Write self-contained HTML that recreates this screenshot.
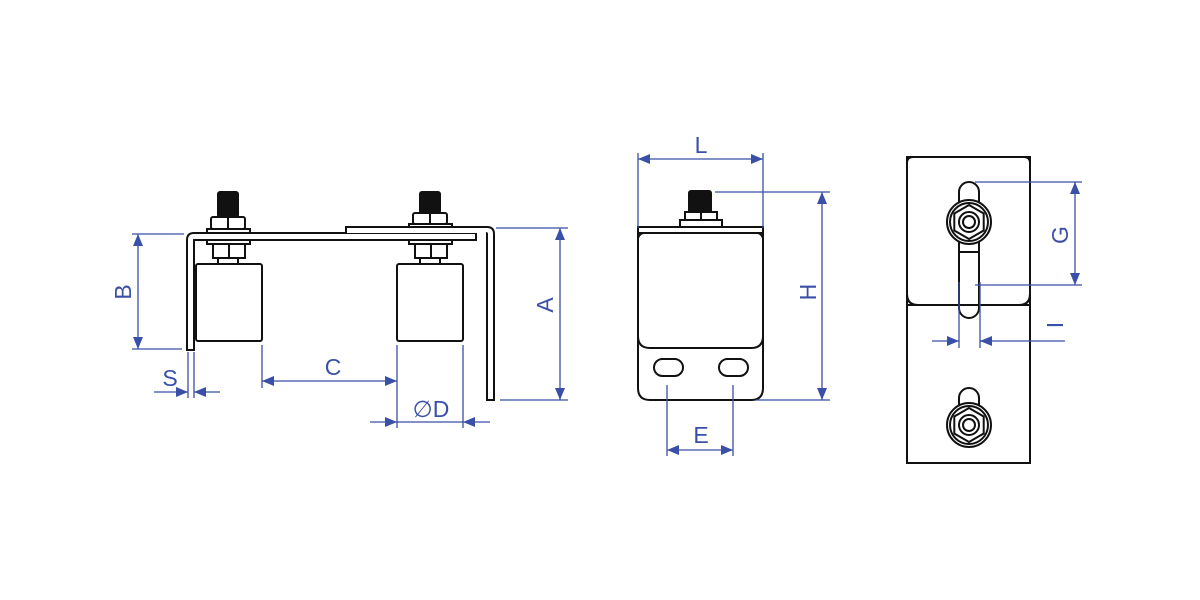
<!DOCTYPE html>
<html><head><meta charset="utf-8"><style>html,body{margin:0;padding:0;background:#fff}svg{display:block}</style></head>
<body>
<svg width="1200" height="600" viewBox="0 0 1200 600" xmlns="http://www.w3.org/2000/svg">
<defs>
<marker id="a" viewBox="0 0 12 10" refX="12" refY="5" markerWidth="12" markerHeight="10" markerUnits="userSpaceOnUse" orient="auto-start-reverse"><path d="M0,0 L12,5 L0,10 z" fill="#3a4fa8"/></marker>
</defs>
<rect width="1200" height="600" fill="#fff"/>
<g fill="none" stroke="#111" stroke-width="2">
<!-- LEFT VIEW -->
<path d="M187,350 V240 Q187,233 194,233 H476 V240 H194 V350 Z" fill="#fff"/>
<path d="M346,233 V227 H487 Q494,227 494,234 V400 H487 V234 Q487,233 486,233" fill="#fff"/>
<!-- left bolt -->
<rect x="218" y="192" width="20" height="25" rx="2" fill="#111"/>
<rect x="211" y="217" width="34" height="12" rx="2" fill="#fff"/>
<line x1="228" y1="217" x2="228" y2="229"/>
<rect x="207" y="229" width="43" height="4" fill="#fff"/>
<rect x="207" y="240" width="43" height="4" fill="#fff"/>
<rect x="213" y="244" width="32" height="14" fill="#fff"/>
<line x1="229" y1="244" x2="229" y2="258"/>
<rect x="218" y="258" width="20" height="6" fill="#fff"/>
<rect x="196" y="264" width="66" height="77" rx="2" fill="#fff"/>
<!-- right bolt -->
<rect x="420" y="192" width="20" height="21" rx="2" fill="#111"/>
<rect x="413" y="213" width="34" height="11" rx="2" fill="#fff"/>
<line x1="430" y1="213" x2="430" y2="224"/>
<rect x="409" y="224" width="43" height="3" fill="#fff"/>
<rect x="409" y="240" width="43" height="4" fill="#fff"/>
<rect x="415" y="244" width="32" height="14" fill="#fff"/>
<line x1="431" y1="244" x2="431" y2="258"/>
<rect x="420" y="258" width="20" height="6" fill="#fff"/>
<rect x="397" y="264" width="66" height="77" rx="2" fill="#fff"/>

<!-- MIDDLE VIEW -->
<rect x="689" y="191" width="22" height="22" rx="2" fill="#111"/>
<rect x="685" y="212" width="32" height="12" fill="#fff"/>
<line x1="701" y1="212" x2="701" y2="224"/>
<rect x="680" y="220" width="42" height="8" fill="#fff"/>
<rect x="638" y="227" width="125" height="6" fill="#fff"/>
<path d="M638,233 V388 Q638,400 650,400 H751 Q763,400 763,388 V233"/>
<path d="M638,238 Q640,233 644,233 M763,238 Q761,233 757,233"/>
<path d="M638,336 Q638,348 650,348 H751 Q763,348 763,336"/>
<rect x="654" y="359" width="29" height="17" rx="8.5"/>
<rect x="719" y="359" width="29" height="17" rx="8.5"/>

<!-- RIGHT VIEW -->
<rect x="907" y="157" width="123" height="306"/>
<path d="M907,163 Q907,157 913,157 H1024 Q1030,157 1030,163 V294 Q1030,305 1019,305 H918 Q907,305 907,294 Z"/>
<rect x="959" y="182" width="20" height="136" rx="10" fill="#fff"/>
<line x1="959" y1="252" x2="979" y2="252"/>
<line x1="907" y1="305" x2="1030" y2="305"/>
<path d="M918,305 Q907,305 907,294 M1019,305 Q1030,305 1030,294"/>
<circle cx="969" cy="222" r="22" fill="#fff"/>
<circle cx="969" cy="222" r="19"/>
<polygon points="969,205 983.7,213.5 983.7,230.5 969,239 954.3,230.5 954.3,213.5" />
<circle cx="969" cy="222" r="10"/>
<circle cx="969" cy="222" r="6"/>
<rect x="959" y="388" width="20" height="40" rx="10" fill="#fff"/>
<circle cx="969" cy="425" r="22" fill="#fff"/>
<circle cx="969" cy="425" r="19"/>
<polygon points="969,408 983.7,416.5 983.7,433.5 969,442 954.3,433.5 954.3,416.5"/>
<circle cx="969" cy="425" r="10"/>
<circle cx="969" cy="425" r="6"/>
</g>

<!-- DIMENSIONS -->
<g stroke="#3a4fa8" stroke-width="1.3" fill="none">
<!-- B -->
<line x1="132" y1="234" x2="184" y2="234"/><line x1="132" y1="349" x2="182" y2="349"/>
<line x1="138" y1="234" x2="138" y2="349" marker-start="url(#a)" marker-end="url(#a)"/>
<!-- S -->
<line x1="188" y1="352" x2="188" y2="398"/><line x1="194" y1="352" x2="194" y2="398"/>
<line x1="154" y1="392" x2="188" y2="392" marker-end="url(#a)"/><line x1="220" y1="392" x2="194" y2="392" marker-end="url(#a)"/>
<!-- C -->
<line x1="262" y1="345" x2="262" y2="388"/><line x1="397" y1="345" x2="397" y2="428"/>
<line x1="262" y1="381" x2="397" y2="381" marker-start="url(#a)" marker-end="url(#a)"/>
<!-- D -->
<line x1="463" y1="345" x2="463" y2="428"/>
<line x1="370" y1="422" x2="397" y2="422" marker-end="url(#a)"/><line x1="490" y1="422" x2="463" y2="422" marker-end="url(#a)"/>
<line x1="397" y1="422" x2="463" y2="422"/>
<!-- A -->
<line x1="496" y1="228" x2="568" y2="228"/><line x1="500" y1="400" x2="568" y2="400"/>
<line x1="560" y1="228" x2="560" y2="400" marker-start="url(#a)" marker-end="url(#a)"/>
<!-- L -->
<line x1="638" y1="153" x2="638" y2="228"/><line x1="763" y1="153" x2="763" y2="228"/>
<line x1="638" y1="159" x2="763" y2="159" marker-start="url(#a)" marker-end="url(#a)"/>
<!-- H -->
<line x1="715" y1="192" x2="830" y2="192"/><line x1="756" y1="400" x2="830" y2="400"/>
<line x1="822" y1="192" x2="822" y2="400" marker-start="url(#a)" marker-end="url(#a)"/>
<!-- E -->
<line x1="667" y1="385" x2="667" y2="456"/><line x1="733" y1="385" x2="733" y2="456"/>
<line x1="667" y1="450" x2="733" y2="450" marker-start="url(#a)" marker-end="url(#a)"/>
<!-- G -->
<line x1="975" y1="182" x2="1082" y2="182"/><line x1="975" y1="285" x2="1082" y2="285"/>
<line x1="1075" y1="182" x2="1075" y2="285" marker-start="url(#a)" marker-end="url(#a)"/>
<!-- I -->
<line x1="959" y1="282" x2="959" y2="348"/><line x1="980" y1="282" x2="980" y2="348"/>
<line x1="932" y1="341" x2="959" y2="341" marker-end="url(#a)"/><line x1="1065" y1="341" x2="980" y2="341"/>
<line x1="992" y1="341" x2="980" y2="341" marker-end="url(#a)"/>
</g>
<g fill="#3a4fa8" font-family="Liberation Sans, sans-serif" font-size="23" text-anchor="middle">
<text x="0" y="0" transform="translate(131,292) rotate(-90)">B</text>
<text x="170" y="386">S</text>
<text x="333" y="375">C</text>
<text x="431" y="417">∅D</text>
<text x="0" y="0" transform="translate(553,305) rotate(-90)">A</text>
<text x="701" y="153">L</text>
<text x="0" y="0" transform="translate(816,292) rotate(-90)">H</text>
<text x="701" y="443">E</text>
<text x="0" y="0" transform="translate(1068,235) rotate(-90)">G</text>
<text x="0" y="0" transform="translate(1063,325) rotate(-90)">I</text>
</g>
</svg>
</body></html>
